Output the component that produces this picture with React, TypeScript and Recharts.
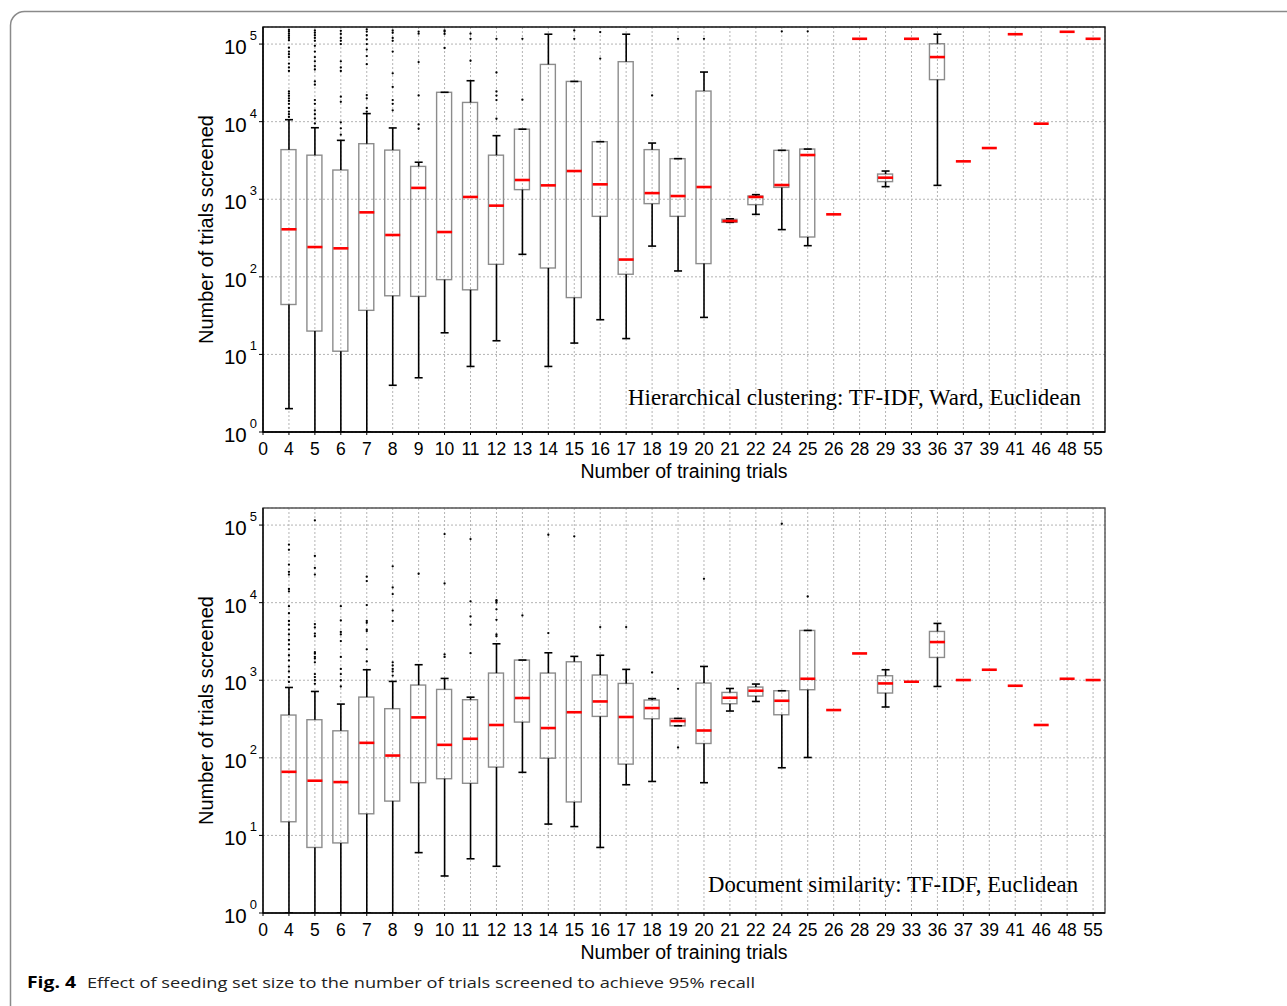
import { Bar, CartesianGrid, ComposedChart, Label, ReferenceArea, Scatter, XAxis, YAxis } from "recharts"

// x categories: number of training trials
const categories = [
  "0", "4", "5", "6", "7", "8", "9", "10", "11", "12", "13", "14", "15", "16", "17", "18", "19",
  "20", "21", "22", "24", "25", "26", "28", "29", "33", "36", "37", "39", "41", "46", "48", "55",
]
const xTicks = categories.map((_, i) => i)
const majorTicks = [1, 10, 100, 1000, 10000, 100000]
const minorTicks = [1, 10, 100, 1000, 10000].flatMap((d) => [2, 3, 4, 5, 6, 7, 8, 9].map((m) => m * d))

// Hierarchical clustering: TF-IDF, Ward, Euclidean
const hcLow = [null, 2, 1, 1, 1, 4, 5, 19, 7, 15, 195, 7, 14, 28, 16, 249, 119, 30, 504, 639, 406, 252, null, null, 1453, null, 1510, null, null, null, null, null, null]
const hcQ1 = [null, 44, 20, 11, 37, 57, 56, 92, 68, 145, 1330, 130, 54, 602, 108, 878, 602, 148, 504, 852, 1422, 326, null, null, 1687, null, 34800, null, null, null, null, null, null]
const hcMedian = [null, 410, 242, 233, 678, 346, 1400, 378, 1070, 827, 1770, 1510, 2310, 1557, 167, 1200, 1100, 1437, 524, 1070, 1525, 3715, 639, 117000, 1897, 117000, 68000, 3080, 4570, 134000, 9420, 144000, 117000]
const hcQ3 = [null, 4360, 3700, 2380, 5200, 4300, 2650, 23900, 17700, 3700, 8000, 54700, 33000, 5520, 59300, 4360, 3335, 24800, 551, 1100, 4270, 4435, null, null, 2113, null, 101000, null, null, null, null, null, null]
const hcHigh = [null, 10600, 8350, 5740, 12700, 8300, 3000, 23900, 33700, 6600, 8000, 134000, 33000, 5520, 134000, 5300, 3335, 43600, 560, 1146, 4270, 4435, null, null, 2310, null, 134000, null, null, null, null, null, null]
const hcOutliers: number[][] = [
  [],
  [11500, 12500, 13500, 15000, 17000, 18500, 20000, 21500, 23000, 24500, 45000, 50000, 56000, 68000, 74000, 80000, 90000, 112000, 120000, 128000, 136000, 145000, 152000],
  [9500, 11000, 12500, 14000, 17000, 19000, 30000, 33000, 47000, 52000, 60000, 68000, 80000, 95000, 110000, 120000, 130000, 140000, 150000],
  [6800, 8200, 9800, 18000, 21000, 45000, 50000, 60000, 100000, 110000, 120000, 135000, 148000],
  [13500, 15000, 20000, 22000, 55000, 70000, 85000, 100000, 115000, 130000, 145000, 155000],
  [14000, 17000, 19000, 28000, 42000, 80000, 110000, 120000, 140000, 150000],
  [8100, 9200, 21800, 58600, 136000, 145000],
  [89000, 135000, 145000, 150000],
  [61000, 117000, 136000],
  [10900, 19000, 21700, 24500, 43000, 117000],
  [19200, 117000],
  [],
  [117000, 150000],
  [65000, 143000],
  [],
  [21800],
  [117000],
  [117000],
  [], [],
  [146000],
  [146000],
  [], [], [], [], [], [], [], [], [], [], [],
]

// Document similarity: TF-IDF, Euclidean
const dsLow = [null, 1, 1, 1, 1, 1, 6, 3, 5, 4, 65, 14, 13, 7, 45, 49.6, 259, 47.8, 401, 533, 74.5, 101, null, null, 452, null, 832, null, null, null, null, null, null]
const dsQ1 = [null, 15, 7, 8, 19, 27.7, 47.8, 53.8, 47, 76, 289, 99, 27, 342, 83, 319, 259, 153, 498, 625, 359, 755, null, null, 684, null, 1968, null, null, null, null, null, null]
const dsMedian = [null, 66, 50.7, 48.7, 156, 107, 332, 147, 176, 265, 590, 242, 387, 533, 336, 438, 298, 225, 595, 732, 544, 1045, 413, 2216, 910, 957, 3106, 1006, 1366, 849, 265, 1045, 1006]
const dsQ3 = [null, 356, 310, 223, 607, 430, 867, 762, 561, 1238, 1820, 1238, 1730, 1167, 910, 556, 322, 920, 697, 817, 732, 4385, null, null, 1143, null, 4256, null, null, null, null, null, null]
const dsHigh = [null, 807, 717, 493, 1366, 966, 1585, 1055, 605, 2950, 1820, 2260, 2030, 2100, 1380, 580, 322, 1506, 783, 893, 732, 4385, null, null, 1366, null, 5400, null, null, null, null, null, null]
const dsOutliers: number[][] = [
  [],
  [950, 1100, 1300, 1500, 1800, 2100, 2500, 2900, 3300, 3900, 4500, 5200, 5800, 7300, 9000, 14000, 15000, 23000, 25000, 31000, 48000, 56000],
  [900, 1000, 1100, 1200, 1700, 1900, 2000, 2200, 2300, 3700, 4000, 4800, 5300, 23000, 28000, 40000, 115000],
  [830, 1000, 1200, 1400, 2000, 3200, 3900, 4200, 5900, 9000],
  [1750, 2500, 4300, 4500, 5500, 5800, 9300, 19000, 21600],
  [1150, 1300, 1400, 1550, 1700, 5800, 7900, 12900, 15700, 29400],
  [23600],
  [2000, 2150, 17700, 76600],
  [2230, 5200, 6640, 10400, 66000],
  [3700, 3900, 6000, 8200, 10000, 10500, 10800],
  [6840],
  [4060, 75000],
  [71600],
  [4850],
  [4850],
  [1260],
  [136, 776],
  [20300],
  [], [],
  [104000],
  [12000],
  [], [], [], [], [], [], [], [], [], [], [],
]

const X_MAX = 32.46
const Y_MIN = 1
const Y_MAX = 166000
const SANS = "'Liberation Sans', Arial, sans-serif"
const SERIF = "'Liberation Serif', 'Times New Roman', serif"

function norm(p: any) {
  const top = Math.min(p.y, p.y + p.height)
  return { top, h: Math.abs(p.height), cx: p.x + p.width / 2 }
}

const BoxShape = (p: any) => {
  if (!p.payload?.box) return <g />
  const { top, h } = norm(p)
  return <rect x={p.x} y={top} width={p.width} height={h} fill="none" stroke="#8c8c8c" strokeWidth={1.4} />
}

const LowWhisker = (p: any) => {
  if (!p.payload?.lowW) return <g />
  const { top, h, cx } = norm(p)
  return (
    <g stroke="#000" strokeWidth={1.6}>
      <line x1={cx} x2={cx} y1={top} y2={top + h} />
      <line x1={p.x} x2={p.x + p.width} y1={top + h} y2={top + h} />
    </g>
  )
}

const HighWhisker = (p: any) => {
  if (!p.payload?.highW) return <g />
  const { top, h, cx } = norm(p)
  return (
    <g stroke="#000" strokeWidth={1.6}>
      <line x1={cx} x2={cx} y1={top} y2={top + h} />
      <line x1={p.x} x2={p.x + p.width} y1={top} y2={top} />
    </g>
  )
}

const MedianShape = (p: any) => (
  <line x1={p.cx - 7.5} x2={p.cx + 7.5} y1={p.cy} y2={p.cy} stroke="#ff0000" strokeWidth={2.6} />
)

const FlierShape = (p: any) => <circle cx={p.cx} cy={p.cy} r={1.15} fill="#000" />

function LogTick(props: any) {
  const { x, y, payload } = props
  const exp = Math.round(Math.log10(payload.value))
  return (
    <text x={x} y={y + 10} textAnchor="end" fontFamily={SANS} fill="#000">
      <tspan fontSize={20.5}>10</tspan>
      <tspan fontSize={13} dx={3} dy={-14}>
        {exp}
      </tspan>
    </text>
  )
}

interface PanelProps {
  lo: (number | null)[]
  q1: (number | null)[]
  med: (number | null)[]
  q3: (number | null)[]
  hi: (number | null)[]
  outliers: number[][]
  note: string
  noteWidth: number
  noteRight: number
  noteBottom: number
  frameColor: string
}

function BoxPanel({ lo, q1, med, q3, hi, outliers, note, noteWidth, noteRight, noteBottom, frameColor }: PanelProps) {
  const rows = categories
    .map((_, i) => ({
      x: i,
      box: q1[i] != null ? [q1[i], q3[i]] : null,
      lowW: lo[i] != null ? [lo[i], q1[i]] : null,
      highW: hi[i] != null ? [q3[i], hi[i]] : null,
    }))
    .filter((r) => r.box)
  const medians = med.map((m, i) => ({ x: i, y: m })).filter((d) => d.y != null)
  const fliers = outliers.flatMap((list, i) => list.map((v) => ({ x: i, y: v })))

  const hiddenX = (id: string) => (
    <XAxis xAxisId={id} dataKey="x" type="number" domain={[0, X_MAX]} ticks={xTicks} allowDataOverflow hide />
  )

  return (
    <ComposedChart width={1130} height={490} data={rows} margin={{ top: 27, right: 25, bottom: 8, left: 0 }}>
      <CartesianGrid stroke="#b4b4b4" strokeDasharray="2 2" />
      <XAxis
        dataKey="x"
        type="number"
        domain={[0, X_MAX]}
        ticks={xTicks}
        interval={0}
        allowDataOverflow
        tickFormatter={(i: number) => categories[i]}
        height={50}
        tickSize={3}
        tickMargin={8}
        tick={{ fontSize: 17.5, fill: "#000", fontFamily: SANS }}
        axisLine={{ stroke: "#000", strokeWidth: 1.3 }}
        tickLine={{ stroke: "#000" }}
      >
        <Label
          content={(p: any) => (
            <text
              x={p.viewBox.x + p.viewBox.width / 2}
              y={p.viewBox.y + 46}
              textAnchor="middle"
              fontFamily={SANS}
              fontSize={19.5}
              fill="#000"
            >
              Number of training trials
            </text>
          )}
        />
      </XAxis>
      {hiddenX("box")}
      {hiddenX("lw")}
      {hiddenX("hw")}
      <YAxis
        yAxisId="minor"
        type="number"
        scale="log"
        domain={[Y_MIN, Y_MAX]}
        allowDataOverflow
        ticks={minorTicks}
        interval={0}
        width={0}
        axisLine={false}
        tickSize={2}
        tickLine={{ stroke: "#000" }}
        tickFormatter={() => ""}
      />
      <YAxis
        type="number"
        scale="log"
        domain={[Y_MIN, Y_MAX]}
        allowDataOverflow
        ticks={majorTicks}
        interval={0}
        width={263}
        tickSize={4}
        tickMargin={2}
        tick={<LogTick />}
        axisLine={{ stroke: "#000", strokeWidth: 1.3 }}
        tickLine={{ stroke: "#000" }}
      >
        <Label
          content={(p: any) => {
            const x = p.viewBox.x + p.viewBox.width - 50
            const y = p.viewBox.y + p.viewBox.height / 2
            return (
              <text
                x={x}
                y={y}
                transform={`rotate(-90, ${x}, ${y})`}
                textAnchor="middle"
                fontFamily={SANS}
                fontSize={20}
                fill="#000"
              >
                Number of trials screened
              </text>
            )
          }}
        />
      </YAxis>
      <Bar xAxisId="box" dataKey="box" barSize={15} shape={BoxShape} isAnimationActive={false} />
      <Bar xAxisId="lw" dataKey="lowW" barSize={8} shape={LowWhisker} isAnimationActive={false} />
      <Bar xAxisId="hw" dataKey="highW" barSize={8} shape={HighWhisker} isAnimationActive={false} />
      <Scatter data={fliers} dataKey="y" shape={FlierShape} isAnimationActive={false} />
      <Scatter data={medians} dataKey="y" shape={MedianShape} isAnimationActive={false} />
      <ReferenceArea
        x1={0}
        x2={X_MAX}
        y1={Y_MIN}
        y2={Y_MAX}
        fill="none"
        stroke={frameColor}
        strokeWidth={1.4}
        ifOverflow="visible"
        label={
          <Label
            content={(p: any) => (
              <text
                x={p.viewBox.x + p.viewBox.width - noteRight}
                y={p.viewBox.y + p.viewBox.height - noteBottom}
                textAnchor="end"
                fontFamily={SERIF}
                fontSize={23}
                textLength={noteWidth}
                lengthAdjust="spacingAndGlyphs"
                fill="#000"
              >
                {note}
              </text>
            )}
          />
        }
      />
    </ComposedChart>
  )
}

export default function App() {
  return (
    <div style={{ position: "absolute", left: 0, top: 0, width: 1287, height: 1006, overflow: "hidden", background: "#fff" }}>
      <svg width={1287} height={1006} style={{ position: "absolute", left: 0, top: 0 }}>
        <rect x={10.5} y={11.5} width={1320} height={1010} rx={14} fill="none" stroke="#8a8a8a" strokeWidth={1.5} />
        <text x={27} y={988} fontFamily="'Open Sans', 'Noto Sans', sans-serif" fontWeight={700} fontSize={16} textLength={49} lengthAdjust="spacingAndGlyphs" fill="#000">
          Fig. 4
        </text>
        <text x={87} y={988} fontFamily="'Open Sans', 'Noto Sans', sans-serif" fontSize={14.5} textLength={668} lengthAdjust="spacingAndGlyphs" fill="#222">
          Effect of seeding set size to the number of trials screened to achieve 95% recall
        </text>
      </svg>
      <div style={{ position: "absolute", left: 0, top: 0 }}>
        <BoxPanel
          lo={hcLow}
          q1={hcQ1}
          med={hcMedian}
          q3={hcQ3}
          hi={hcHigh}
          outliers={hcOutliers}
          note="Hierarchical clustering: TF-IDF, Ward, Euclidean"
          noteWidth={453}
          noteRight={24}
          noteBottom={27}
          frameColor="#111"
        />
      </div>
      <div style={{ position: "absolute", left: 0, top: 481 }}>
        <BoxPanel
          lo={dsLow}
          q1={dsQ1}
          med={dsMedian}
          q3={dsQ3}
          hi={dsHigh}
          outliers={dsOutliers}
          note="Document similarity: TF-IDF, Euclidean"
          noteWidth={370}
          noteRight={27}
          noteBottom={21}
          frameColor="#555"
        />
      </div>
    </div>
  )
}
